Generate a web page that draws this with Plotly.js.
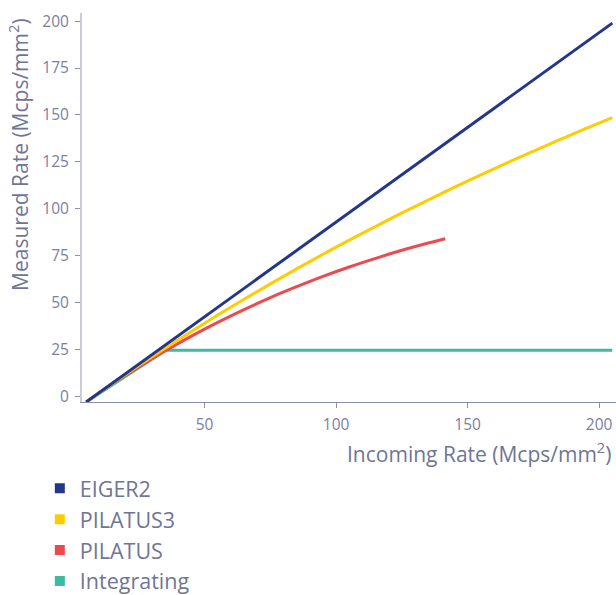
<!DOCTYPE html>
<html>
<head>
<meta charset="utf-8">
<script src="https://cdn.plot.ly/plotly-3.0.1.min.js"></script>
<style>html,body{margin:0;padding:0;background:#fff;}</style>
</head>
<body>
<div id="chart" style="width:616px;height:595px;"></div>
<script>
// Series names
const seriesNames = ["EIGER2", "PILATUS3", "PILATUS", "Integrating"];
const seriesColors = ["#22378b", "#ffcc00", "#ec4a4f", "#3dbaa0"];

// EIGER2 (incoming vs measured)
const eigerX = [5, 205];
const eigerY = [-2.9, 198.9];

// PILATUS3
const pilatus3X = [5, 15, 25, 35, 45, 55, 65, 75, 85, 95, 105, 115, 125, 135, 145, 155, 165, 175, 185, 195, 205];
const pilatus3Y = [-2.9, 6.9, 16.5, 25.7, 34.7, 43.4, 51.8, 60.0, 68.0, 75.8, 83.3, 90.6, 97.8, 104.7, 111.5, 118.1, 124.5, 130.7, 136.8, 142.8, 148.6];

// PILATUS
const pilatusX = [5, 15, 25, 35, 45, 55, 65, 75, 85, 95, 105, 115, 125, 135, 141.5];
const pilatusY = [-2.9, 6.8, 15.8, 24.3, 32.2, 39.5, 46.3, 52.7, 58.5, 64.0, 69.0, 73.6, 77.9, 81.8, 84.1];

// Integrating
const integX = [5, 35, 205];
const integY = [-2.9, 24.6, 24.6];

// Axis ticks
const xTicks = [50, 100, 150, 200];
const yTicks = [0, 25, 50, 75, 100, 125, 150, 175, 200];

const lineX = [eigerX, pilatus3X, pilatusX, integX];
const lineY = [eigerY, pilatus3Y, pilatusY, integY];
const lineShapes = ["linear", "spline", "spline", "linear"];

const traces = [];
// draw order: Integrating first, then PILATUS, PILATUS3, EIGER2 on top
[3, 2, 1, 0].forEach(i => {
  traces.push({
    x: lineX[i], y: lineY[i], type: "scatter", mode: "lines",
    name: seriesNames[i], showlegend: false, hoverinfo: "skip",
    line: {color: seriesColors[i], width: 3, shape: lineShapes[i], smoothing: 1}
  });
});
// legend entries as square markers
[0, 1, 2, 3].forEach(i => {
  traces.push({
    x: [null], y: [null], type: "scatter", mode: "markers",
    name: seriesNames[i], showlegend: true,
    marker: {symbol: "square", size: 10, color: seriesColors[i]}
  });
});

const textColor = "#6f7596";
const tickColor = "#7b809e";

const layout = {
  width: 616, height: 595,
  margin: {l: 82, r: 0, t: 13, b: 193, pad: 0, autoexpand: false},
  paper_bgcolor: "#ffffff", plot_bgcolor: "#ffffff",
  font: {family: "Open Sans, sans-serif", color: textColor},
  showlegend: true,
  legend: {
    orientation: "v", x: -0.079, xanchor: "left", y: -0.169, yanchor: "top",
    font: {size: 21.5, color: textColor}, tracegroupgap: 0, itemwidth: 30,
    bgcolor: "rgba(0,0,0,0)"
  },
  xaxis: {
    range: [3.4, 206.4], tickvals: xTicks, ticktext: xTicks.map(String),
    showgrid: false, zeroline: false, showline: true, linecolor: "#8a8fae", linewidth: 1,
    ticks: "outside", ticklen: 5, tickcolor: "#8a8fae", ticklabelstandoff: 3,
    tickfont: {size: 15.5, color: tickColor}
  },
  yaxis: {
    range: [-2.9, 204.3], tickvals: yTicks, ticktext: yTicks.map(String),
    showgrid: false, zeroline: false, showline: true, linecolor: "#cbcbdc", linewidth: 2,
    ticks: "outside", ticklen: 5, tickcolor: "#8a8fae", ticklabelstandoff: 3,
    tickfont: {size: 15.5, color: tickColor}
  },
  annotations: [
    {text: "Incoming Rate (Mcps/mm<sup>2</sup>)", xref: "paper", yref: "paper",
     x: 0.994, y: -0.129, xanchor: "right", yanchor: "middle", showarrow: false,
     font: {size: 21, color: textColor}},
    {text: "Measured Rate (Mcps/mm<sup>2</sup>)", xref: "paper", yref: "paper",
     x: -0.118, y: 0.99, xanchor: "center", yanchor: "top", textangle: -90, showarrow: false,
     font: {size: 21, color: textColor}}
  ]
};

Plotly.newPlot("chart", traces, layout, {displayModeBar: false, staticPlot: true});
</script>
</body>
</html>
